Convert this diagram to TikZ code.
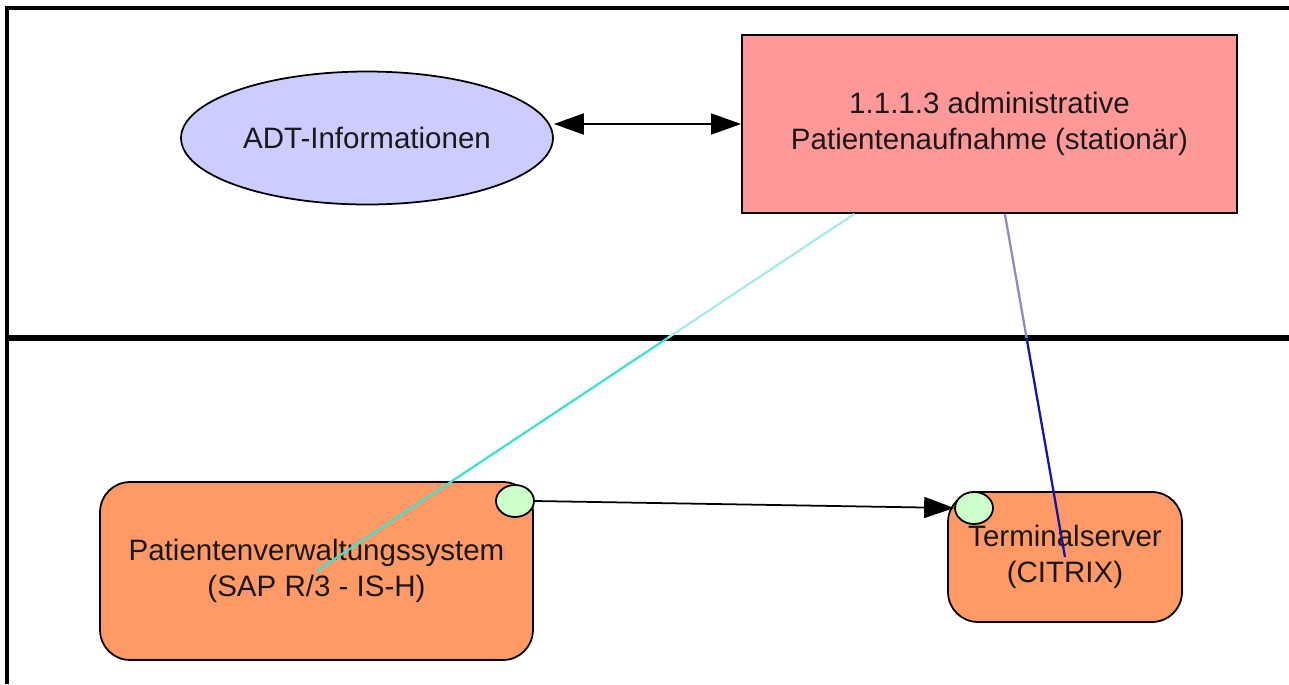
\documentclass[tikz,border=0pt]{standalone}
\usepackage{fontspec}
\setmainfont{Liberation Sans}
\usetikzlibrary{arrows.meta,calc,shapes.geometric}

\definecolor{adtblue}{RGB}{204,204,255}
\definecolor{admred}{RGB}{255,153,153}
\definecolor{sysorange}{RGB}{255,153,102}
\definecolor{portgreen}{RGB}{204,255,204}
\definecolor{tealline}{RGB}{64,224,208}
\definecolor{tealfaint}{RGB}{164,238,234}
\definecolor{navyline}{RGB}{20,20,170}
\definecolor{navyfaint}{RGB}{140,140,196}

\tikzset{
	labelfont/.style={font=\fontsize{16.8}{20.5}\selectfont, align=center, text=black!90},
	infobox/.style={ellipse, draw=black, line width=1pt, fill=adtblue, minimum width=7.44cm, minimum height=2.66cm, labelfont},
	procbox/.style={rectangle, draw=black, line width=1.1pt, fill=admred, minimum width=9.9cm, minimum height=3.56cm, labelfont},
	sysbox/.style={rectangle, rounded corners=0.6cm, draw=black, line width=1pt, fill=sysorange, labelfont},
	portdot/.style={ellipse, draw=black, line width=1pt, fill=portgreen, minimum width=0.76cm, minimum height=0.64cm, inner sep=0pt},
	bigtip/.style={line width=1pt, -{Triangle[length=0.6cm, width=0.42cm]}},
	dbltip/.style={line width=1pt, {Triangle[length=0.6cm, width=0.42cm]}-{Triangle[length=0.6cm, width=0.42cm]}},
}

\begin{document}
\begin{tikzpicture}[x=0.02cm, y=-0.02cm]
			%%%%% START %%%%%
			\useasboundingbox (0, 0) rectangle (1289, 684);
			
			% frame and lane separator
			\draw[line width=1.8pt] (7, 684) -- (7, 8) -- (1289, 8);
			\coordinate (sepL) at (7, 338);
			\coordinate (sepR) at (1289, 338);
			\draw[line width=3.2pt] (sepL) -- (sepR);
			
			% upper lane
			\node[infobox] (adt) at (367, 138) {ADT-Informationen};
			\node[procbox] (adm) at (989.5, 124) {1.1.1.3 administrative\\Patientenaufnahme (station\"ar)};
			
			% lower lane
			\node[sysbox, minimum width=8.66cm, minimum height=3.56cm] (pvs) at (316.5, 571) {Patientenverwaltungssystem\\(SAP R/3 - IS-H)};
			\node[sysbox, minimum width=4.68cm, minimum height=2.6cm] (ts) at (1065, 557) {Terminalserver\\(CITRIX)};
			\node[portdot] (pvsport) at (515, 501) {};
			\node[portdot] (tsport) at (974, 508) {};
			
			\draw[dbltip] (adt.east |- adm.west) -- (adm.west);
			\draw[bigtip] (pvsport.east) -- (tsport.west);
			
			% links from the process down to the systems
			\coordinate (admA) at ($(adm.south west)!0.228!(adm.south east)$);
			\coordinate (admB) at ($(adm.south west)!0.531!(adm.south east)$);
			\coordinate (pvsmid) at (pvs.center);
			\coordinate (tsmid) at (ts.center);
			\coordinate (cutA) at (intersection of admA--pvsmid and sepL--sepR);
			\coordinate (cutB) at (intersection of admB--tsmid and sepL--sepR);
			
			\draw[line width=1.3pt, color=tealfaint] (admA) -- (cutA);
			\draw[line width=1.3pt, color=tealline] (cutA) -- (pvsmid);
			\draw[line width=1.3pt, color=navyfaint] (admB) -- (cutB);
			\draw[line width=1.3pt, color=navyline] (cutB) -- (tsmid);
			
			%%%%% END %%%%%
\end{tikzpicture}
\end{document}
